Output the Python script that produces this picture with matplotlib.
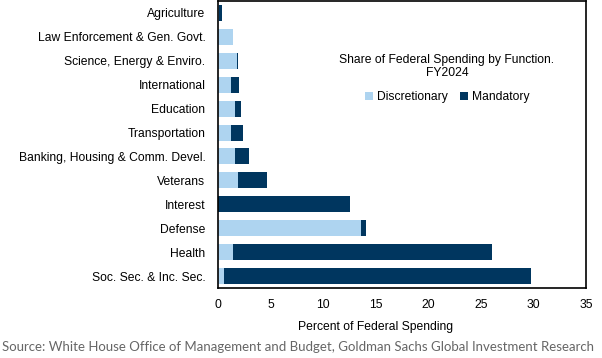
import numpy as np
import matplotlib.pyplot as plt

# Datos (porcentaje del gasto federal, FY2024)
categories = ["Agriculture", "Law Enforcement & Gen. Govt.", "Science, Energy & Enviro.",
              "International", "Education", "Transportation",
              "Banking, Housing & Comm. Devel.", "Veterans", "Interest", "Defense",
              "Health", "Soc. Sec. & Inc. Sec."]
discretionary = [0.05, 1.40, 1.78, 1.21, 1.59, 1.21, 1.59, 1.87, 0.0, 13.59, 1.40, 0.54]
mandatory = [0.30, 0.00, 0.09, 0.76, 0.57, 1.14, 1.33, 2.77, 12.54, 0.47, 24.67, 29.21]
xticks = [0, 5, 10, 15, 20, 25, 30, 35]

light = "#AED4F0"
dark = "#00365F"

plt.rcParams['font.family'] = ['Liberation Sans', 'DejaVu Sans']

fig = plt.figure(figsize=(6.02, 3.58), dpi=100)
ax = fig.add_axes([218 / 602, 1 - 288 / 358, 368 / 602, 287 / 358])

y = np.arange(len(categories))
ax.barh(y, discretionary, height=0.67, color=light, label="Discretionary")
ax.barh(y, mandatory, left=discretionary, height=0.67, color=dark, label="Mandatory")

ax.set_ylim(len(categories) - 0.5, -0.5)
ax.set_xlim(0, 35)
ax.set_xticks(xticks)
ax.set_yticks(y)
ax.set_yticklabels(categories)
ax.tick_params(length=0, labelsize=8.7, pad=9)
ax.tick_params(axis='x', pad=8)
for s in ax.spines.values():
    s.set_linewidth(1.2)
    s.set_color("black")

ax.set_xlabel("Percent of Federal Spending", fontsize=8.7, labelpad=8)
ax.xaxis.set_label_coords(0.429, -0.115)

# Titulo y leyenda dentro del area
ax.text(0.622, 0.772, "Share of Federal Spending by Function.\nFY2024", transform=ax.transAxes,
        ha='center', va='center', fontsize=8.7, linespacing=1.12)
ax.legend(loc='center', bbox_to_anchor=(0.622, 0.665), ncol=2, frameon=False, fontsize=8.7,
          handlelength=0.7, handleheight=0.7, handletextpad=0.3, columnspacing=1.0)

fig.text(0.003, 0.03, "Source: White House Office of Management and Budget, Goldman Sachs Global Investment Research",
         fontsize=9.5, color="#666666", family="Lato", ha='left', va='center')

plt.savefig("out.png", dpi=100)
